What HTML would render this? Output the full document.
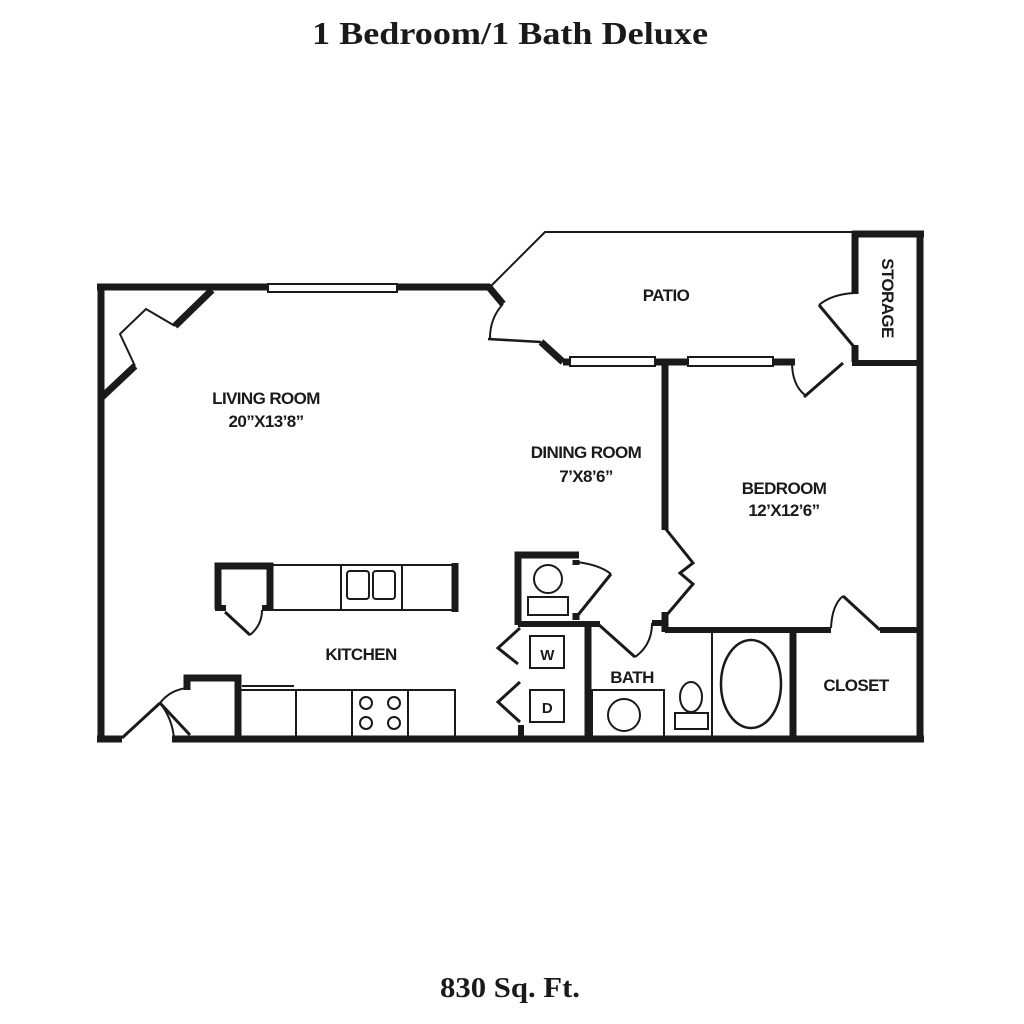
<!DOCTYPE html>
<html><head><style>
html,body{margin:0;padding:0;background:#fff;}
svg{display:block;}
.t{font-family:"Liberation Serif",serif;font-weight:bold;fill:#1a1a1a;}
.l{font-family:"Liberation Sans",sans-serif;font-size:17px;font-weight:bold;letter-spacing:-0.6px;fill:#1a1a1a;}
</style></head><body>
<svg width="1024" height="1024" viewBox="0 0 1024 1024" xmlns="http://www.w3.org/2000/svg">
<text class="t" x="510" y="44" font-size="32" text-anchor="middle" textLength="396" lengthAdjust="spacingAndGlyphs">1 Bedroom/1 Bath Deluxe</text>
<text class="t" x="510" y="997" font-size="28" text-anchor="middle" textLength="140" lengthAdjust="spacingAndGlyphs">830 Sq. Ft.</text>
<g stroke="#1a1a1a" fill="none" stroke-linecap="butt">
<path d="M101,398 V742" stroke-width="7"/>
<path d="M101,287 V398" stroke-width="7"/>
<path d="M97,287 H268 M397,287 H490" stroke-width="7"/>
<path d="M97,739 H122 M172,739 H924" stroke-width="7"/>
<path d="M920,231 V742" stroke-width="7"/>
<path d="M852,234 H924" stroke-width="7"/>
<path d="M855,232 V294 M855,345 V362" stroke-width="7"/>
<path d="M852,363 H920" stroke-width="6"/>
<rect x="268" y="284" width="129" height="8" fill="#fff" stroke-width="2"/>
<path d="M175,326 L212,290" stroke-width="7"/>
<path d="M175,326 L146,309 L120,334 L135,366" stroke-width="2"/>
<path d="M135,366 L101,398" stroke-width="7"/>
<path d="M490,287 L545,232 H855" stroke-width="2"/>
<path d="M488,286 L503,304" stroke-width="7"/>
<path d="M503,304 Q490,318 490,338" stroke-width="2"/>
<path d="M488,339 L541,342" stroke-width="2.5"/>
<path d="M541,342 L563,362" stroke-width="7"/>
<path d="M563,362 H570 M655,362 H688 M773,362 H795" stroke-width="7"/>
<rect x="570" y="357" width="85" height="9" fill="#fff" stroke-width="2"/>
<rect x="688" y="357" width="85" height="9" fill="#fff" stroke-width="2"/>
<path d="M819,305 L855,348" stroke-width="3"/>
<path d="M819,305 Q832,294 855,293" stroke-width="2"/>
<path d="M792,362 Q792,385 805,395" stroke-width="2"/>
<path d="M804,397 L843,363" stroke-width="3"/>
<path d="M665,360 V530" stroke-width="7"/>
<path d="M665,528 L693,563 L680,573 L693,584 L665,617" stroke-width="3"/>
<path d="M665,612 V632" stroke-width="7"/>
<path d="M652,623 H668" stroke-width="6"/>
<path d="M665,630 H831 M880,630 H920" stroke-width="6"/>
<path d="M880,630 L843,596" stroke-width="3"/>
<path d="M843,596 Q832,605 831,628" stroke-width="2"/>
<path d="M793,630 V740" stroke-width="7"/>
<path d="M712,633 V738" stroke-width="2"/>
<ellipse cx="751" cy="684" rx="30" ry="44" stroke-width="2.5"/>
<ellipse cx="691" cy="697" rx="11" ry="15" stroke-width="2"/>
<rect x="675" y="713" width="33" height="16" stroke-width="2"/>
<rect x="592" y="690" width="72" height="48" stroke-width="2"/>
<circle cx="624" cy="715" r="16" stroke-width="2"/>
<path d="M598,624 L635,657" stroke-width="3"/>
<path d="M635,657 Q652,645 652,623" stroke-width="2"/>
<path d="M588,622 V740" stroke-width="7"/>
<path d="M588,624 H600" stroke-width="6"/>
<path d="M518,625 V555 H579" stroke-width="7"/>
<path d="M518,624 H590" stroke-width="6"/>
<path d="M576,560 V565 M576,613 V620" stroke-width="7"/>
<path d="M577,562 Q600,565 611,574" stroke-width="2"/>
<path d="M611,574 L578,615" stroke-width="3"/>
<circle cx="548" cy="579" r="14" stroke-width="2"/>
<rect x="528" y="597" width="40" height="18" stroke-width="2"/>
<rect x="530" y="636" width="34" height="32" stroke-width="2"/>
<rect x="530" y="690" width="34" height="32" stroke-width="2"/>
<path d="M520,628 L498,648 L518,664" stroke-width="3"/>
<path d="M520,682 L498,702 L520,722" stroke-width="3"/>
<path d="M521,725 V740" stroke-width="6"/>
<path d="M218,609 V566 H270 V610" stroke-width="7"/>
<path d="M215,608 H226 M262,608 H272" stroke-width="6"/>
<path d="M225,612 L250,635" stroke-width="3"/>
<path d="M250,635 Q262,625 262,610" stroke-width="2"/>
<rect x="270" y="565" width="184" height="45" stroke-width="2"/>
<path d="M341,565 V610 M402,565 V610" stroke-width="2"/>
<rect x="347" y="571" width="22" height="28" rx="3" stroke-width="2"/>
<rect x="373" y="571" width="22" height="28" rx="3" stroke-width="2"/>
<path d="M455,563 V612" stroke-width="7"/>
<path d="M238,738 V678 H187 V690" stroke-width="7"/>
<rect x="240" y="690" width="215" height="48" stroke-width="2"/>
<path d="M296,690 V738 M352,690 V738 M408,690 V738" stroke-width="2"/>
<path d="M242,686 H294" stroke-width="2"/>
<circle cx="366" cy="703" r="6" stroke-width="2"/><circle cx="394" cy="703" r="6" stroke-width="2"/>
<circle cx="366" cy="723" r="6" stroke-width="2"/><circle cx="394" cy="723" r="6" stroke-width="2"/>
<path d="M122,738 L160,703" stroke-width="3"/>
<path d="M160,703 L190,735" stroke-width="3"/>
<path d="M160,703 Q170,690 187,688" stroke-width="2"/>
<path d="M160,703 Q172,718 174,738" stroke-width="2"/>
</g>
<g class="l" text-anchor="middle">
<text x="266" y="404">LIVING ROOM</text>
<text x="266" y="427">20”X13’8”</text>
<text x="586" y="458">DINING ROOM</text>
<text x="586" y="482">7’X8’6”</text>
<text x="784" y="494">BEDROOM</text>
<text x="784" y="516">12’X12’6”</text>
<text x="666" y="301">PATIO</text>
<text x="361" y="660">KITCHEN</text>
<text x="632" y="683">BATH</text>
<text x="856" y="691">CLOSET</text>
<text x="547" y="660" font-size="15">W</text>
<text x="547" y="713" font-size="15">D</text>
<text transform="translate(882,298) rotate(90)" x="0" y="0">STORAGE</text>
</g>
</svg>
</body></html>
